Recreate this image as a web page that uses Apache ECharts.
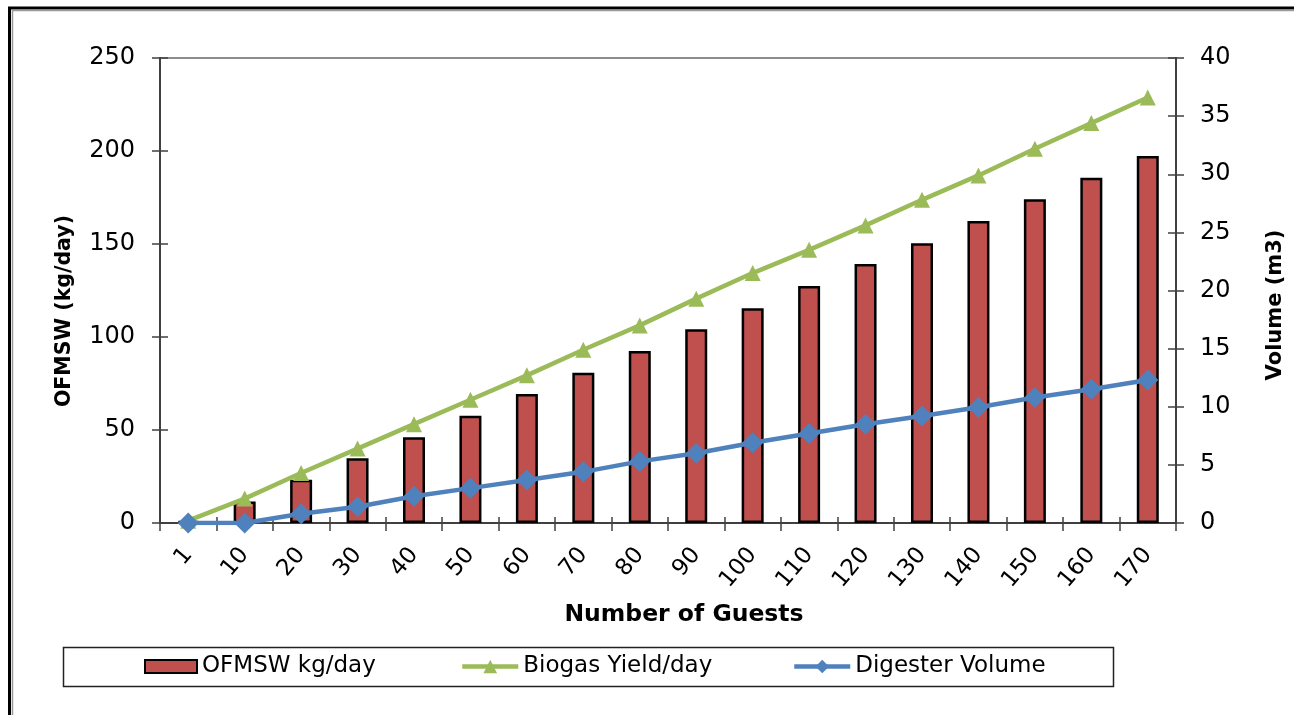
<!DOCTYPE html>
<html>
<head>
<meta charset="utf-8">
<script src="https://cdn.jsdelivr.net/npm/echarts@6/dist/echarts.min.js"></script>
<style>
  html, body { margin: 0; padding: 0; background: #fff; }
  #chart { width: 1294px; height: 715px; }
</style>
</head>
<body>
<div id="chart"></div>
<script>
// Number of guests on the category axis
const guests = ['1', '10', '20', '30', '40', '50', '60', '70', '80', '90',
                '100', '110', '120', '130', '140', '150', '160', '170'];

// Organic fraction of municipal solid waste produced (kg/day), left axis
const ofmsw = [1.2, 11.6, 23.2, 34.8, 46.1, 57.7, 69.4, 80.8, 92.5, 104.1,
               115.4, 127.4, 139.2, 150.4, 162.4, 174.0, 185.6, 197.3];

// Biogas yield per day (m3), right axis
const biogas = [0.2, 2.1, 4.3, 6.4, 8.5, 10.6, 12.7, 14.9, 17.0, 19.3,
                21.5, 23.5, 25.6, 27.8, 29.9, 32.2, 34.4, 36.6];

// Digester volume (m3), right axis
const digester = [0, 0, 0.8, 1.4, 2.3, 3.0, 3.7, 4.4, 5.3, 6.0,
                  6.9, 7.7, 8.5, 9.2, 9.95, 10.8, 11.5, 12.3];

// Axis tick values
const leftTicks = [0, 50, 100, 150, 200, 250];
const rightTicks = [0, 5, 10, 15, 20, 25, 30, 35, 40];

const FONT = '"DejaVu Sans", "Liberation Sans", Arial, sans-serif';
const AXIS_COLOR = '#404040';

const leftScale = {
  min: leftTicks[0],
  max: leftTicks[leftTicks.length - 1],
  interval: leftTicks[1] - leftTicks[0]
};
const rightScale = {
  min: rightTicks[0],
  max: rightTicks[rightTicks.length - 1],
  interval: rightTicks[1] - rightTicks[0]
};

const tickLabel = { color: '#000', fontFamily: FONT, fontSize: 24 };

// Helper axes that draw the inner half of the crossing tick marks
function innerValueAxis(position, scale) {
  return Object.assign({
    type: 'value',
    position: position,
    axisLine: { show: false },
    axisTick: { show: true, inside: true, length: 8, lineStyle: { color: AXIS_COLOR, width: 1.5 } },
    axisLabel: { show: false },
    splitLine: { show: false }
  }, scale);
}

const chart = echarts.init(document.getElementById('chart'), null, { renderer: 'canvas' });

const legendBase = {
  orient: 'horizontal',
  top: 655,
  padding: 0,
  itemGap: 0,
  selectedMode: false,
  textStyle: { color: '#000', fontFamily: FONT, fontSize: 23 }
};

chart.setOption({
  animation: false,
  backgroundColor: '#fff',
  grid: {
    left: 160, right: 118, top: 58, bottom: 192,
    show: true,
    borderColor: '#8c8c8c',
    borderWidth: 2,
    backgroundColor: 'transparent',
    containLabel: false,
    outerBoundsMode: 'none'
  },
  legend: [
    Object.assign({}, legendBase, {
      data: [{ name: 'OFMSW kg/day', icon: 'rect' }],
      left: 144, itemWidth: 52, itemHeight: 13
    }),
    Object.assign({}, legendBase, {
      data: ['Biogas Yield/day'], left: 460, itemWidth: 56, itemHeight: 17,
      lineStyle: { width: 4.5 }
    }),
    Object.assign({}, legendBase, {
      data: ['Digester Volume'], left: 792, itemWidth: 56, itemHeight: 17,
      lineStyle: { width: 4.5 }
    })
  ],
  xAxis: [
    {
      type: 'category',
      data: guests,
      position: 'bottom',
      boundaryGap: true,
      axisLine: { show: true, lineStyle: { color: AXIS_COLOR, width: 2 } },
      axisTick: { show: true, interval: 0, length: 8, lineStyle: { color: AXIS_COLOR, width: 1.5 } },
      axisLabel: Object.assign({}, tickLabel, { fontSize: 23, rotate: 50, interval: 0, margin: 28 }),
      splitLine: { show: false }
    },
    {
      type: 'category',
      data: guests,
      position: 'bottom',
      boundaryGap: true,
      axisLine: { show: false },
      axisTick: { show: true, inside: true, interval: 0, length: 6, lineStyle: { color: AXIS_COLOR, width: 1.5 } },
      axisLabel: { show: false },
      splitLine: { show: false }
    }
  ],
  yAxis: [
    Object.assign({
      type: 'value',
      position: 'left',
      axisLine: { show: true, lineStyle: { color: AXIS_COLOR, width: 2 } },
      axisTick: { show: true, length: 8, lineStyle: { color: AXIS_COLOR, width: 1.5 } },
      axisLabel: Object.assign({}, tickLabel, { margin: 25 }),
      splitLine: { show: false }
    }, leftScale),
    Object.assign({
      type: 'value',
      position: 'right',
      axisLine: { show: true, lineStyle: { color: AXIS_COLOR, width: 2 } },
      axisTick: { show: true, length: 8, lineStyle: { color: AXIS_COLOR, width: 1.5 } },
      axisLabel: Object.assign({}, tickLabel, { margin: 24 }),
      splitLine: { show: false }
    }, rightScale),
    innerValueAxis('left', leftScale),
    innerValueAxis('right', rightScale)
  ],
  series: [
    {
      name: 'OFMSW kg/day',
      type: 'bar',
      xAxisIndex: 0,
      yAxisIndex: 0,
      data: ofmsw,
      barWidth: 22,
      itemStyle: { color: '#C0504D', borderColor: '#000', borderWidth: 2.5 }
    },
    {
      name: 'Biogas Yield/day',
      type: 'line',
      xAxisIndex: 0,
      yAxisIndex: 1,
      data: biogas,
      symbol: 'triangle',
      symbolSize: 16,
      showAllSymbol: true,
      lineStyle: { color: '#9BBB59', width: 4.5 },
      itemStyle: { color: '#9BBB59' }
    },
    {
      name: 'Digester Volume',
      type: 'line',
      xAxisIndex: 0,
      yAxisIndex: 1,
      data: digester,
      symbol: 'diamond',
      symbolSize: 21,
      showAllSymbol: true,
      lineStyle: { color: '#4F81BD', width: 4.5 },
      itemStyle: { color: '#4F81BD' }
    }
  ],
  graphic: [
    // outer double frame
    { type: 'rect', silent: true, shape: { x: 9.5, y: 8, width: 2000, height: 2000 },
      style: { fill: 'none', stroke: '#000', lineWidth: 3 } },
    { type: 'rect', silent: true, shape: { x: 12.5, y: 10.5, width: 2000, height: 2000 },
      style: { fill: 'none', stroke: '#9a9a9a', lineWidth: 1.5 } },
    // legend box
    { type: 'rect', silent: true, z: 1, shape: { x: 63.5, y: 647.5, width: 1050, height: 39 },
      style: { fill: 'none', stroke: '#222', lineWidth: 1.5 } },
    // axis titles
    { type: 'text', silent: true, x: 65, y: 311, rotation: Math.PI / 2,
      style: { text: 'OFMSW (kg/day)', fill: '#000', font: 'bold 20.5px ' + FONT, align: 'center', verticalAlign: 'middle' } },
    { type: 'text', silent: true, x: 1276, y: 305, rotation: Math.PI / 2,
      style: { text: 'Volume (m3)', fill: '#000', font: 'bold 21px ' + FONT, align: 'center', verticalAlign: 'middle' } },
    { type: 'text', silent: true, x: 684, y: 615,
      style: { text: 'Number of Guests', fill: '#000', font: 'bold 23.5px ' + FONT, align: 'center', verticalAlign: 'middle' } }
  ]
});
</script>
</body>
</html>
